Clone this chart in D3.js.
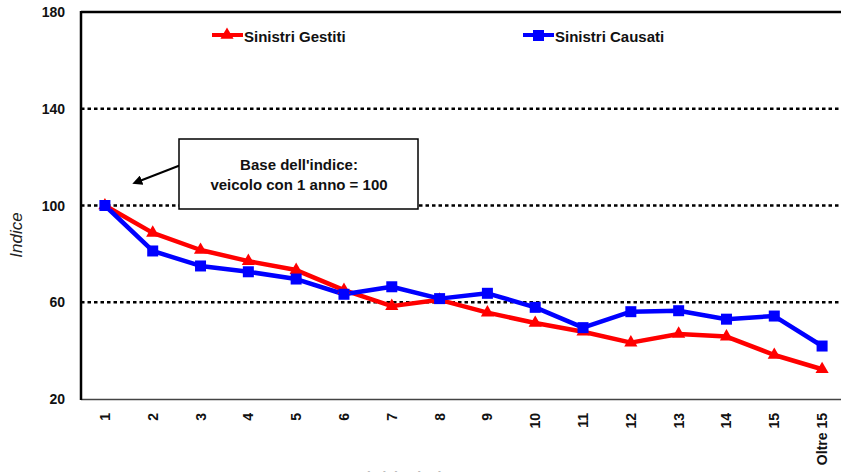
<!DOCTYPE html>
<html><head><meta charset="utf-8">
<script src="https://cdn.jsdelivr.net/npm/d3@7"></script>
<style>
html,body{margin:0;padding:0;background:#fff;overflow:hidden;}
svg{display:block;font-family:"Liberation Sans",Arial,sans-serif;}
</style></head>
<body><svg id="c" width="841" height="472"></svg>
<script>
const categories = ["1","2","3","4","5","6","7","8","9","10","11","12","13","14","15","Oltre 15"];
const gestiti = [100, 88.7, 81.6, 77, 73.3, 65, 58.4, 61, 55.7, 51.4, 47.8, 43.3, 46.9, 45.8, 38.2, 32.3];
const causati = [100, 81.2, 75, 72.6, 69.6, 63.3, 66.4, 61.5, 63.7, 57.9, 49.5, 56.1, 56.5, 53, 54.3, 41.9];
const yTicks = [20, 60, 100, 140, 180];
const gridValues = [60, 100, 140];

const svg = d3.select("#c");
const pL = 81, pR = 846, pT = 12, pB = 399;
const x = d3.scalePoint().domain(categories).range([pL, pR]).padding(0.5);
const y = d3.scaleLinear().domain([20, 180]).range([pB, pT]);

// gridlines
svg.append("g").selectAll("line").data(gridValues).join("line")
  .attr("x1", pL).attr("x2", 841)
  .attr("y1", d => y(d)).attr("y2", d => y(d))
  .attr("stroke", "#000").attr("stroke-width", 2.4).attr("stroke-dasharray", "3.5,3");

// top border
svg.append("line").attr("x1", pL).attr("x2", 841).attr("y1", pT).attr("y2", pT)
  .attr("stroke", "#000").attr("stroke-width", 2.5);
// bottom axis
svg.append("line").attr("x1", pL).attr("x2", 841).attr("y1", pB+0.5).attr("y2", pB+0.5)
  .attr("stroke", "#444").attr("stroke-width", 1.5);
// left axis
svg.append("line").attr("x1", pL).attr("x2", pL).attr("y1", pT-1).attr("y2", pB+1)
  .attr("stroke", "#000").attr("stroke-width", 2.5);

// y tick labels
svg.append("g").selectAll("text").data(yTicks).join("text")
  .attr("x", 65).attr("y", d => y(d)).attr("dy", "0.36em")
  .attr("text-anchor", "end").attr("font-size", 14).attr("font-weight", "bold")
  .attr("fill", "#111").text(d => d);

// y title
svg.append("text").attr("transform", "translate(22,235) rotate(-90)")
  .attr("text-anchor", "middle").attr("font-size", 17).attr("font-style", "italic")
  .attr("fill", "#222").text("Indice");

// x labels
svg.append("g").selectAll("text").data(categories).join("text")
  .attr("transform", d => `translate(${x(d)+5},413) rotate(-90)`)
  .attr("text-anchor", "end").attr("font-size", 14).attr("font-weight", "bold")
  .attr("fill", "#111").text(d => d);

// x title (cut off at the bottom edge, as in the source)
svg.append("text").attr("x", 401).attr("y", 482).attr("text-anchor", "middle")
  .attr("font-size", 14).attr("font-weight", "bold").attr("fill", "#bbb").text("Età del veicolo");

// lines
const line = d3.line().x((d,i) => x(categories[i])).y(d => y(d));
svg.append("path").datum(gestiti).attr("d", line).attr("fill", "none")
  .attr("stroke", "#ff0000").attr("stroke-width", 4.5).attr("stroke-linejoin", "round");
svg.append("path").datum(causati).attr("d", line).attr("fill", "none")
  .attr("stroke", "#0000ff").attr("stroke-width", 4.5).attr("stroke-linejoin", "round");

const tri = d3.symbol().type(d3.symbolTriangle).size(75);
svg.append("g").selectAll("path").data(gestiti).join("path")
  .attr("transform", (d,i) => `translate(${x(categories[i])},${y(d)})`)
  .attr("d", tri).attr("fill", "#ff0000");
svg.append("g").selectAll("rect").data(causati).join("rect")
  .attr("x", (d,i) => x(categories[i]) - 5.5).attr("y", d => y(d) - 5.5)
  .attr("width", 11).attr("height", 11).attr("fill", "#0000ff");

// legend
const lg = svg.append("g");
lg.append("line").attr("x1", 212).attr("x2", 243).attr("y1", 35).attr("y2", 35)
  .attr("stroke", "#ff0000").attr("stroke-width", 4);
lg.append("path").attr("transform", "translate(227,35)").attr("d", tri).attr("fill", "#ff0000");
lg.append("text").attr("x", 244).attr("y", 37).attr("dy", "0.35em").attr("font-size", 15)
  .attr("font-weight", "bold").attr("fill", "#111").text("Sinistri Gestiti");
lg.append("line").attr("x1", 523).attr("x2", 554).attr("y1", 35).attr("y2", 35)
  .attr("stroke", "#0000ff").attr("stroke-width", 4);
lg.append("rect").attr("x", 533).attr("y", 30).attr("width", 11).attr("height", 11).attr("fill", "#0000ff");
lg.append("text").attr("x", 555).attr("y", 37).attr("dy", "0.35em").attr("font-size", 15)
  .attr("font-weight", "bold").attr("fill", "#111").text("Sinistri Causati");

// annotation
svg.append("defs").append("marker").attr("id", "ah").attr("viewBox", "0 0 10 10")
  .attr("refX", 5).attr("refY", 5).attr("markerWidth", 5).attr("markerHeight", 5)
  .attr("orient", "auto").append("path").attr("d", "M0,0 L10,5 L0,10 z").attr("fill", "#000");
svg.append("line").attr("x1", 186).attr("y1", 163).attr("x2", 137).attr("y2", 182)
  .attr("stroke", "#000").attr("stroke-width", 2).attr("marker-end", "url(#ah)");
svg.append("rect").attr("x", 179).attr("y", 139).attr("width", 239).attr("height", 70)
  .attr("fill", "#fff").attr("stroke", "#000").attr("stroke-width", 1.5);
svg.append("text").attr("x", 299).attr("y", 170).attr("text-anchor", "middle")
  .attr("font-size", 15).attr("font-weight", "bold").attr("fill", "#111").text("Base dell'indice:");
svg.append("text").attr("x", 299).attr("y", 190).attr("text-anchor", "middle")
  .attr("font-size", 15).attr("font-weight", "bold").attr("fill", "#111").text("veicolo con 1 anno = 100");
</script></body></html>
